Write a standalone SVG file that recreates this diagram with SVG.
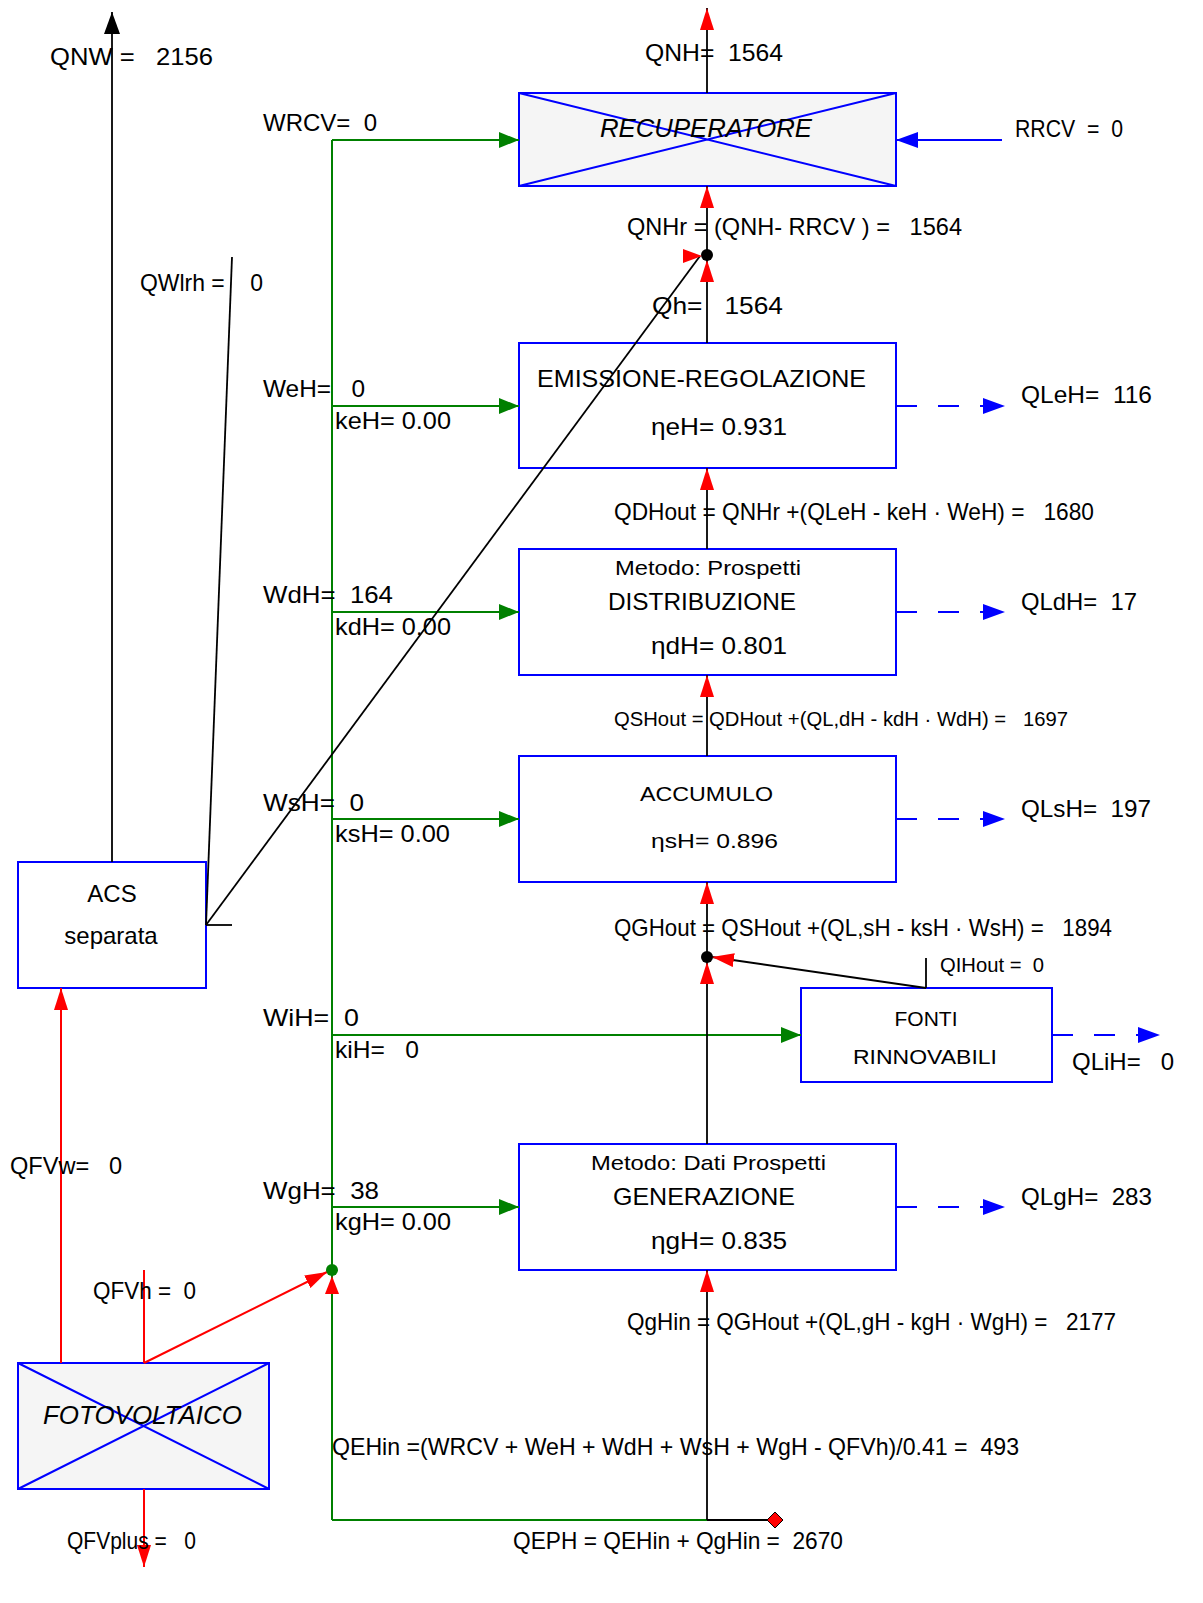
<svg xmlns="http://www.w3.org/2000/svg" width="1203" height="1603" viewBox="0 0 1203 1603">
<style>
.box{fill:#ffffff;stroke:#0000ff;stroke-width:2}
.xbox{fill:#f5f5f5;stroke:#0000ff;stroke-width:2}
.cross{stroke:#0000ff;stroke-width:2;fill:none}
text{white-space:pre}
.t{font-family:"Liberation Sans",Arial,sans-serif;font-size:24px;fill:#000}
.s{font-family:"Liberation Sans",Arial,sans-serif;font-size:21px;fill:#000}
.i{font-family:"Liberation Sans",Arial,sans-serif;font-size:25px;font-style:italic;fill:#000}
.g{stroke:#008000;stroke-width:2;fill:none}
.k{stroke:#000;stroke-width:1.8;fill:none}
.r{stroke:#ff0000;stroke-width:2;fill:none}
.b{stroke:#0000ff;stroke-width:2;fill:none}
.bd{stroke:#0000ff;stroke-width:2;fill:none;stroke-dasharray:21 21}
</style>
<defs>
<marker id="mr" markerUnits="userSpaceOnUse" markerWidth="22" markerHeight="14" viewBox="0 0 22 14" refX="22" refY="7" orient="auto"><path d="M0,0 L22,7 L0,14 z" fill="#ff0000"/></marker>
<marker id="mg" markerUnits="userSpaceOnUse" markerWidth="20" markerHeight="16" viewBox="0 0 20 16" refX="20" refY="8" orient="auto"><path d="M0,0 L20,8 L0,16 z" fill="#008000"/></marker>
<marker id="mb" markerUnits="userSpaceOnUse" markerWidth="22" markerHeight="16" viewBox="0 0 22 16" refX="22" refY="8" orient="auto"><path d="M0,0 L22,8 L0,16 z" fill="#0000ff"/></marker>
<marker id="mk" markerUnits="userSpaceOnUse" markerWidth="22" markerHeight="16" viewBox="0 0 22 16" refX="22" refY="8" orient="auto"><path d="M0,0 L22,8 L0,16 z" fill="#000"/></marker>
</defs>

<g id="recuperatore">
<rect class="xbox" x="519" y="93" width="377" height="93"/>
<path class="cross" d="M519,93 L896,186 M896,93 L519,186"/>
<text class="i" x="706" y="137" text-anchor="middle" textLength="212" lengthAdjust="spacingAndGlyphs">RECUPERATORE</text>
</g>
<g id="emissione">
<rect class="box" x="519" y="343" width="377" height="125"/>
<text class="t" x="537" y="387" textLength="329" lengthAdjust="spacingAndGlyphs">EMISSIONE-REGOLAZIONE</text>
<text class="t" x="651" y="435" textLength="136" lengthAdjust="spacingAndGlyphs">ηeH= 0.931</text>
</g>
<g id="distribuzione">
<rect class="box" x="519" y="549" width="377" height="126"/>
<text class="s" x="615" y="575" textLength="186" lengthAdjust="spacingAndGlyphs">Metodo: Prospetti</text>
<text class="t" x="608" y="610" textLength="188" lengthAdjust="spacingAndGlyphs">DISTRIBUZIONE</text>
<text class="t" x="651" y="654" textLength="136" lengthAdjust="spacingAndGlyphs">ηdH= 0.801</text>
</g>
<g id="accumulo">
<rect class="box" x="519" y="756" width="377" height="126"/>
<text class="s" x="640" y="801" textLength="133" lengthAdjust="spacingAndGlyphs">ACCUMULO</text>
<text class="s" x="651" y="848" textLength="127" lengthAdjust="spacingAndGlyphs">ηsH= 0.896</text>
</g>
<g id="fonti">
<rect class="box" x="801" y="988" width="251" height="94"/>
<text class="s" x="926" y="1026" text-anchor="middle">FONTI</text>
<text class="s" x="925" y="1064" text-anchor="middle" textLength="144" lengthAdjust="spacingAndGlyphs">RINNOVABILI</text>
</g>
<g id="generazione">
<rect class="box" x="519" y="1144" width="377" height="126"/>
<text class="s" x="591" y="1170" textLength="235" lengthAdjust="spacingAndGlyphs">Metodo: Dati Prospetti</text>
<text class="t" x="613" y="1205" textLength="182" lengthAdjust="spacingAndGlyphs">GENERAZIONE</text>
<text class="t" x="651" y="1249" textLength="136" lengthAdjust="spacingAndGlyphs">ηgH= 0.835</text>
</g>
<g id="acs">
<rect class="box" x="18" y="862" width="188" height="126"/>
<text class="t" x="112" y="902" text-anchor="middle">ACS</text>
<text class="t" x="111" y="944" text-anchor="middle">separata</text>
</g>
<g id="fotovoltaico">
<rect class="xbox" x="18" y="1363" width="251" height="126"/>
<path class="cross" d="M18,1363 L269,1489 M269,1363 L18,1489"/>
<text class="i" x="43" y="1424" textLength="199" lengthAdjust="spacingAndGlyphs">FOTOVOLTAICO</text>
</g>

<g id="connectors">
<path class="g" d="M332,1520 L332,140"/>
<path class="g" d="M332,140 L519,140" marker-end="url(#mg)"/>
<path class="g" d="M332,406 L519,406" marker-end="url(#mg)"/>
<path class="g" d="M332,612 L519,612" marker-end="url(#mg)"/>
<path class="g" d="M332,819 L519,819" marker-end="url(#mg)"/>
<path class="g" d="M332,1035 L801,1035" marker-end="url(#mg)"/>
<path class="g" d="M332,1207 L519,1207" marker-end="url(#mg)"/>
<path class="g" d="M332,1520 L707,1520"/>
<path class="k" d="M707,1520 L775,1520"/>
<polygon points="775,1512 783,1520 775,1528 767,1520" fill="#ff0000" stroke="#000" stroke-width="1"/>
<path class="k" d="M707,1520 L707,1270" marker-end="url(#mr)"/>
<path class="k" d="M707,1144 L707,962" marker-end="url(#mr)"/>
<path class="k" d="M707,957 L707,882" marker-end="url(#mr)"/>
<path class="k" d="M707,756 L707,675" marker-end="url(#mr)"/>
<path class="k" d="M707,549 L707,468" marker-end="url(#mr)"/>
<path class="k" d="M707,343 L707,260" marker-end="url(#mr)"/>
<path class="k" d="M707,255 L707,186" marker-end="url(#mr)"/>
<path class="k" d="M707,93 L707,8" marker-end="url(#mr)"/>
<circle cx="707" cy="255" r="6" fill="#000"/>
<circle cx="707" cy="957" r="6" fill="#000"/>
<path class="k" d="M926,988 L926,958"/>
<path class="k" d="M926,988 L712,957" marker-end="url(#mr)"/>
<path class="k" d="M112,862 L112,12" marker-end="url(#mk)"/>
<path class="k" d="M206,925 L232,925"/>
<path class="k" d="M206,925 L232,257"/>
<path class="k" d="M206,925 L700,256"/>
<polygon points="683,249 683,263 702,256" fill="#ff0000"/>
<path class="b" d="M1002,140 L896,140" marker-end="url(#mb)"/>
<path class="bd" d="M896,406 L1005,406" marker-end="url(#mb)"/>
<path class="bd" d="M896,612 L1005,612" marker-end="url(#mb)"/>
<path class="bd" d="M896,819 L1005,819" marker-end="url(#mb)"/>
<path class="bd" d="M896,1207 L1005,1207" marker-end="url(#mb)"/>
<path class="bd" d="M1052,1035 L1160,1035" marker-end="url(#mb)"/>
<path class="r" d="M61,1363 L61,988" marker-end="url(#mr)"/>
<path class="r" d="M144,1363 L144,1270"/>
<path class="r" d="M144,1363 L327,1272" marker-end="url(#mr)"/>
<polygon points="325,1294 339,1294 332,1276" fill="#ff0000"/>
<circle cx="332" cy="1270" r="6" fill="#008000"/>
<path class="r" d="M144,1489 L144,1567" marker-end="url(#mr)"/>
</g>

<g id="labels">
<text class="t" x="50" y="65" textLength="163" lengthAdjust="spacingAndGlyphs">QNW =   2156</text>
<text class="t" x="263" y="131" textLength="114" lengthAdjust="spacingAndGlyphs">WRCV=  0</text>
<text class="t" x="645" y="61" textLength="138" lengthAdjust="spacingAndGlyphs">QNH=  1564</text>
<text class="t" x="1015" y="137" textLength="108" lengthAdjust="spacingAndGlyphs">RRCV  =  0</text>
<text class="t" x="627" y="235" textLength="335" lengthAdjust="spacingAndGlyphs">QNHr = (QNH- RRCV ) =   1564</text>
<text class="t" x="140" y="291" textLength="123" lengthAdjust="spacingAndGlyphs">QWlrh =    0</text>
<text class="t" x="652" y="314" textLength="131" lengthAdjust="spacingAndGlyphs">Qh=   1564</text>
<text class="t" x="263" y="397" textLength="102" lengthAdjust="spacingAndGlyphs">WeH=   0</text>
<text class="t" x="335" y="429" textLength="116" lengthAdjust="spacingAndGlyphs">keH= 0.00</text>
<text class="t" x="1021" y="403" textLength="131" lengthAdjust="spacingAndGlyphs">QLeH=  116</text>
<text class="t" x="614" y="520" textLength="480" lengthAdjust="spacingAndGlyphs">QDHout = QNHr +(QLeH - keH · WeH) =   1680</text>
<text class="t" x="263" y="603" textLength="130" lengthAdjust="spacingAndGlyphs">WdH=  164</text>
<text class="t" x="335" y="635" textLength="116" lengthAdjust="spacingAndGlyphs">kdH= 0.00</text>
<text class="t" x="1021" y="610" textLength="116" lengthAdjust="spacingAndGlyphs">QLdH=  17</text>
<text class="s" x="614" y="726" textLength="454" lengthAdjust="spacingAndGlyphs">QSHout = QDHout +(QL,dH - kdH · WdH) =   1697</text>
<text class="t" x="263" y="811" textLength="101" lengthAdjust="spacingAndGlyphs">WsH=  0</text>
<text class="t" x="335" y="842" textLength="115" lengthAdjust="spacingAndGlyphs">ksH= 0.00</text>
<text class="t" x="1021" y="817" textLength="130" lengthAdjust="spacingAndGlyphs">QLsH=  197</text>
<text class="t" x="614" y="936" textLength="498" lengthAdjust="spacingAndGlyphs">QGHout = QSHout +(QL,sH - ksH · WsH) =   1894</text>
<text class="s" x="940" y="972" textLength="104" lengthAdjust="spacingAndGlyphs">QIHout =  0</text>
<text class="t" x="263" y="1026" textLength="96" lengthAdjust="spacingAndGlyphs">WiH=  0</text>
<text class="t" x="335" y="1058" textLength="84" lengthAdjust="spacingAndGlyphs">kiH=   0</text>
<text class="t" x="1072" y="1070" textLength="102" lengthAdjust="spacingAndGlyphs">QLiH=   0</text>
<text class="t" x="10" y="1174" textLength="112" lengthAdjust="spacingAndGlyphs">QFVw=   0</text>
<text class="t" x="263" y="1199" textLength="116" lengthAdjust="spacingAndGlyphs">WgH=  38</text>
<text class="t" x="335" y="1230" textLength="116" lengthAdjust="spacingAndGlyphs">kgH= 0.00</text>
<text class="t" x="1021" y="1205" textLength="131" lengthAdjust="spacingAndGlyphs">QLgH=  283</text>
<text class="t" x="93" y="1299" textLength="103" lengthAdjust="spacingAndGlyphs">QFVh =  0</text>
<text class="t" x="627" y="1330" textLength="489" lengthAdjust="spacingAndGlyphs">QgHin = QGHout +(QL,gH - kgH · WgH) =   2177</text>
<text class="t" x="332" y="1455" textLength="687" lengthAdjust="spacingAndGlyphs">QEHin =(WRCV + WeH + WdH + WsH + WgH - QFVh)/0.41 =  493</text>
<text class="t" x="513" y="1549" textLength="330" lengthAdjust="spacingAndGlyphs">QEPH = QEHin + QgHin =  2670</text>
<text class="t" x="67" y="1549" textLength="129" lengthAdjust="spacingAndGlyphs">QFVplus =   0</text>
</g>
</svg>
